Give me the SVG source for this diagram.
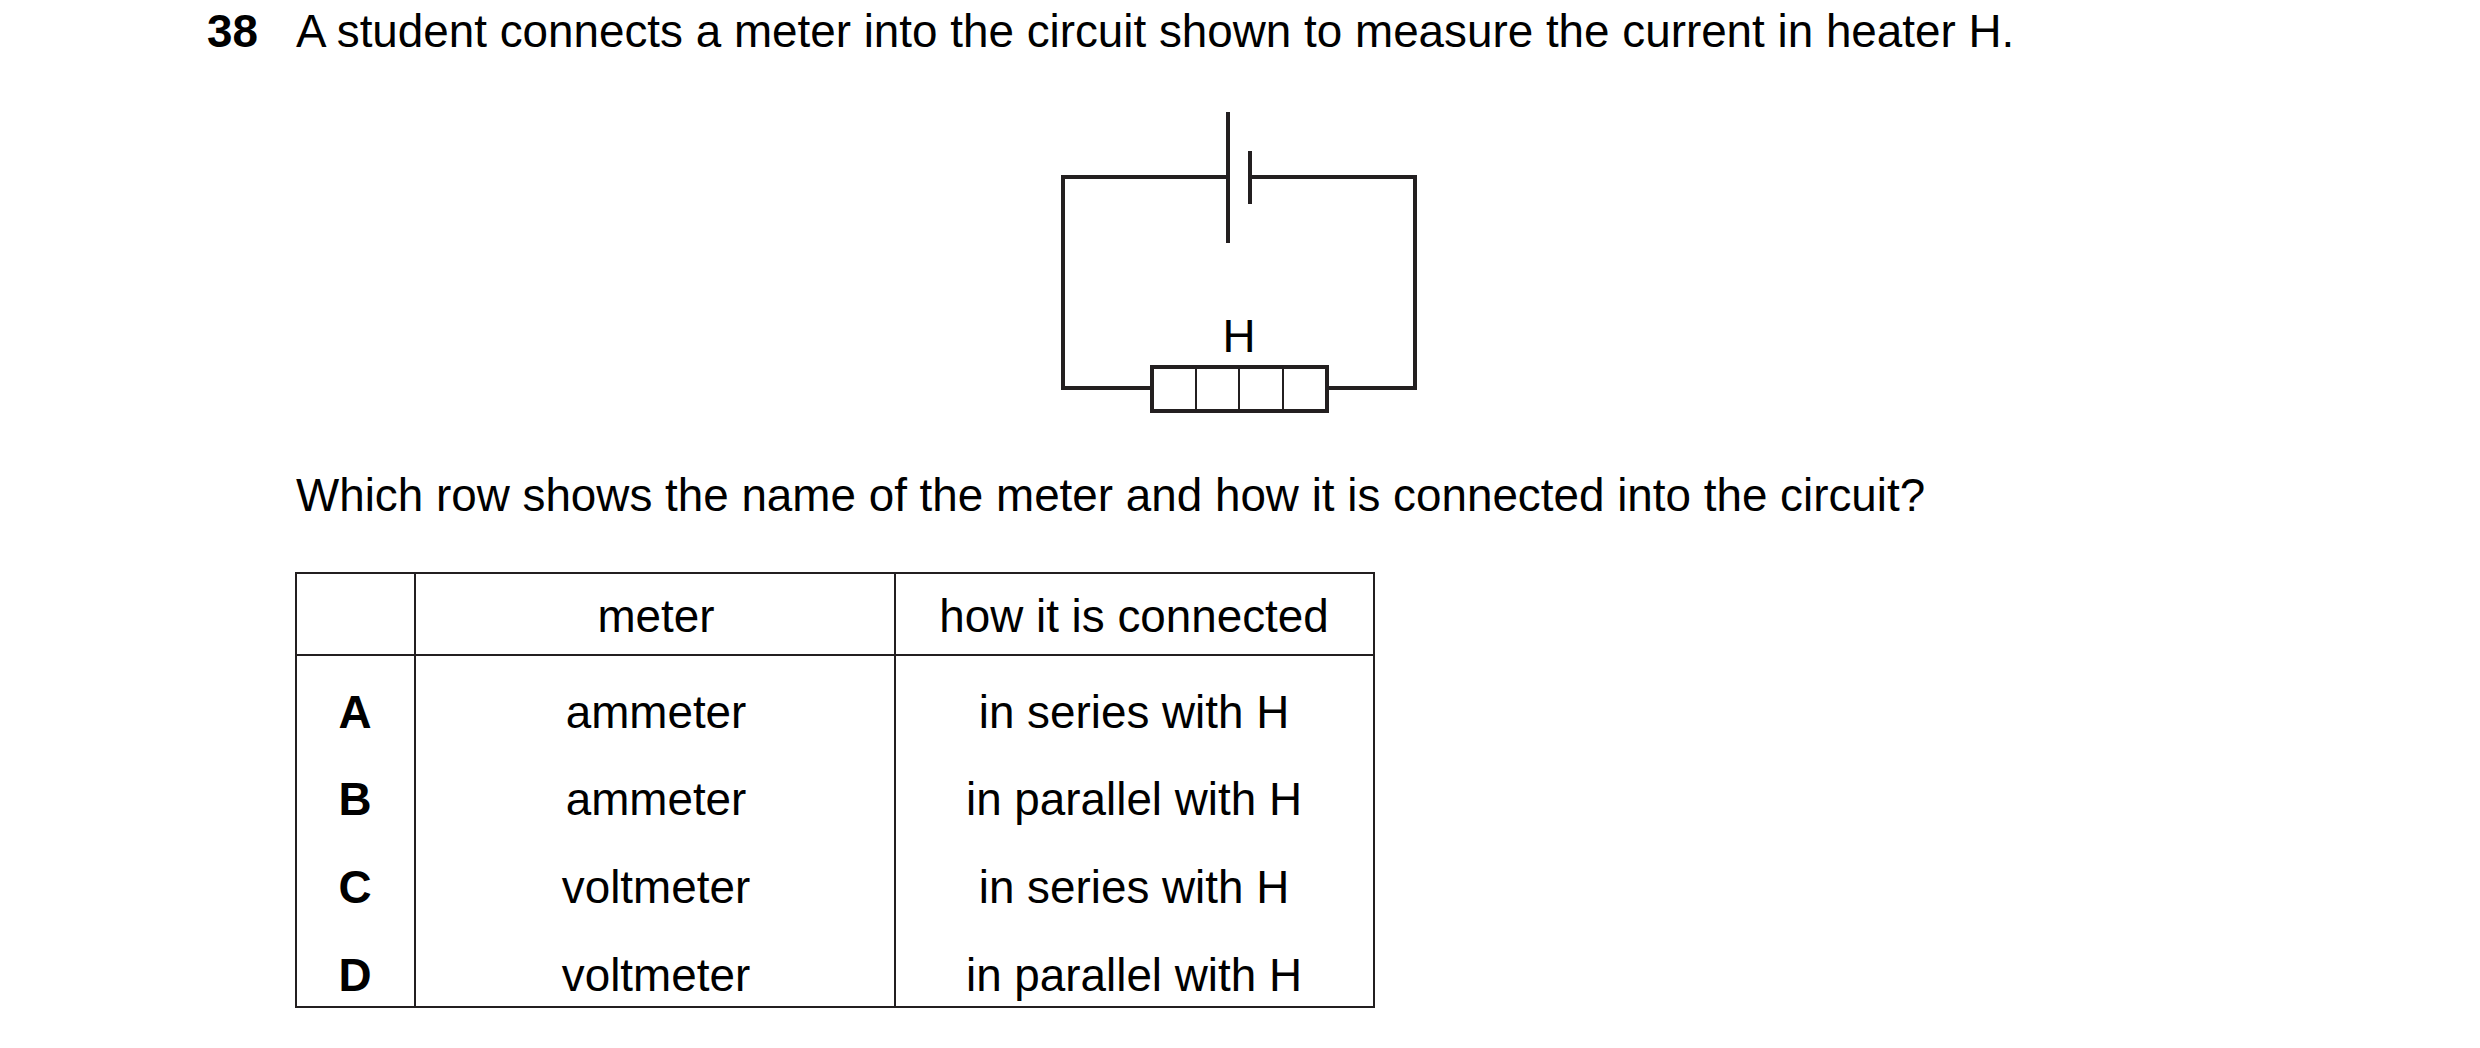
<svg xmlns="http://www.w3.org/2000/svg" width="2480" height="1048" viewBox="0 0 2480 1048">
<style>
text{font-family:"Liberation Sans",Arial,sans-serif;font-size:45.8px;fill:#000}
.b{font-weight:bold}
.c{text-anchor:middle}
.w{stroke:#231f20;stroke-width:4;fill:none}
.t{stroke:#231f20;stroke-width:2;fill:none}
</style>
<rect width="2480" height="1048" fill="#fff"/>
<text class="b" x="207" y="47">38</text>
<text x="296" y="47">A student connects a meter into the circuit shown to measure the current in heater H.</text>
<g id="circuit">
<g id="connectors">
<path class="w" d="M1228 177H1063V388H1152M1250 177H1415V388H1327"/>
</g>
<g id="battery">
<line class="w" x1="1228" y1="112" x2="1228" y2="243"/>
<line class="w" x1="1250" y1="151" x2="1250" y2="204"/>
</g>
<g id="heater">
<rect class="w" x="1152" y="367" width="175" height="44"/>
<path class="t" d="M1196 367V411M1239 367V411M1283 367V411"/>
<text class="c" x="1239" y="352">H</text>
</g>
</g>
<text x="296" y="511">Which row shows the name of the meter and how it is connected into the circuit?</text>
<g id="table">
<rect class="t" x="296" y="573" width="1078" height="434"/>
<path class="t" d="M415 573V1007M895 573V1007M296 655H1374"/>
<text class="c" x="656" y="632">meter</text>
<text class="c" x="1134" y="632">how it is connected</text>
<text class="c b" x="355" y="728">A</text>
<text class="c b" x="355" y="815">B</text>
<text class="c b" x="355" y="903">C</text>
<text class="c b" x="355" y="991">D</text>
<text class="c" x="656" y="728">ammeter</text>
<text class="c" x="656" y="815">ammeter</text>
<text class="c" x="656" y="903">voltmeter</text>
<text class="c" x="656" y="991">voltmeter</text>
<text class="c" x="1134" y="728">in series with H</text>
<text class="c" x="1134" y="815">in parallel with H</text>
<text class="c" x="1134" y="903">in series with H</text>
<text class="c" x="1134" y="991">in parallel with H</text>
</g>
</svg>
